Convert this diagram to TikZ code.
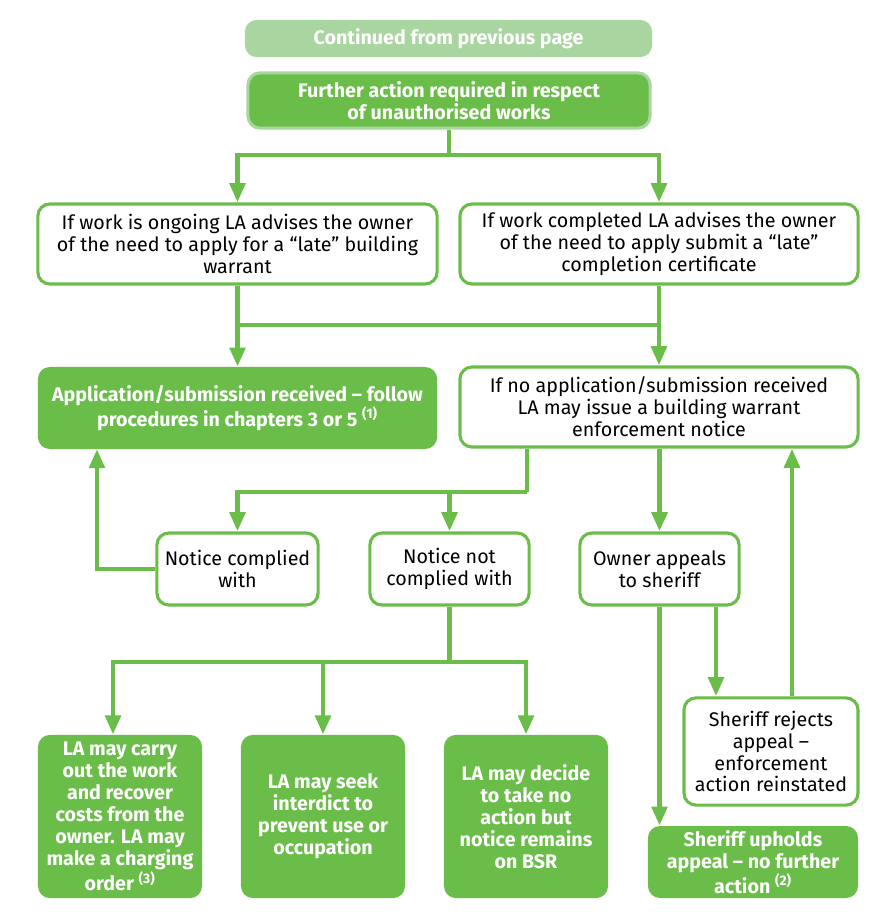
\documentclass[tikz,border=0pt]{standalone}
\usepackage{fontspec}
\setmainfont{Fira Sans}
\usetikzlibrary{arrows.meta}
\definecolor{sgreen}{RGB}{106,189,72}
\definecolor{lgreen}{RGB}{169,213,160}

\begin{document}
\begin{tikzpicture}[x=0.025cm, y=-0.025cm]
% Node styles ---
\tikzstyle{box} = [rectangle, rounded corners = 0.3cm, align = center, inner sep = 0pt, font = \fontsize{14}{15.6}\selectfont]
\tikzstyle{wbox} = [box, line width = 2.2pt, draw = sgreen, fill = white, text = black]
\tikzstyle{gbox} = [box, fill = sgreen, text = white, font = \fontsize{14}{15.6}\selectfont\bfseries]
\tikzstyle{hbox} = [box, fill = lgreen, text = white, font = \fontsize{14}{15.6}\selectfont\bfseries]
\tikzstyle{line} = [line width = 3.5pt, draw = sgreen]
\tikzstyle{con} = [line, -{Triangle[width = 0.38cm, length = 0.48cm]}]
% Begin Figure ---
\useasboundingbox (0,0) rectangle (878,915);
% Nodes
\node at (448.5,38.5) [hbox, minimum width = 10.18cm, minimum height = 0.93cm] (cont) {Continued from previous page};
\node at (449,100.5) [gbox, draw = lgreen, line width = 2.2pt, minimum width = 10.05cm, minimum height = 1.38cm] (further) {Further action required in respect\\of unauthorised works};
\node at (237.5,244) [wbox, minimum width = 9.98cm, minimum height = 2.0cm] (ongoing) {If work is ongoing LA advises the owner\\of the need to apply for a “late” building\\warrant};
\node at (659,244) [wbox, minimum width = 9.95cm, minimum height = 2.0cm] (completed) {If work completed LA advises the owner\\of the need to apply submit a “late”\\completion certificate};
\node at (237.5,408) [gbox, minimum width = 9.98cm, minimum height = 2.05cm] (received) {Application/submission received – follow\\procedures in chapters 3 or 5 \textsuperscript{(1)}};
\node at (659,407) [wbox, minimum width = 9.95cm, minimum height = 2.0cm] (noapp) {If no application/submission received\\LA may issue a building warrant\\enforcement notice};
\node at (237.5,569) [wbox, minimum width = 4.03cm, minimum height = 1.8cm] (complied) {Notice complied\\with};
\node at (449.5,569) [wbox, minimum width = 3.98cm, minimum height = 1.8cm] (notcomp) {Notice not\\complied with};
\node at (659.5,569) [wbox, minimum width = 3.98cm, minimum height = 1.8cm] (appeals) {Owner appeals\\to sheriff};
\node at (771,751.5) [wbox, minimum width = 4.35cm, minimum height = 2.68cm] (rejects) {Sheriff rejects\\appeal –\\enforcement\\action reinstated};
\node at (120,816.5) [gbox, minimum width = 4.1cm, minimum height = 4.08cm] (carry) {LA may carry\\out the work\\and recover\\costs from the\\owner. LA may\\make a charging\\order \textsuperscript{(3)}};
\node at (323,816.5) [gbox, minimum width = 4.1cm, minimum height = 4.08cm] (seek) {LA may seek\\interdict to\\prevent use or\\occupation};
\node at (526,816.5) [gbox, minimum width = 4.1cm, minimum height = 4.08cm] (decide) {LA may decide\\to take no\\action but\\notice remains\\on BSR};
\node at (753,862) [gbox, minimum width = 5.25cm, minimum height = 1.8cm] (upholds) {Sheriff upholds\\appeal – no further\\action \textsuperscript{(2)}};
% Junctions
\coordinate (split1) at (449,155);
\coordinate (split2l) at (237.5,325);
\coordinate (split2r) at (659,325);
\coordinate (split3) at (527,492);
\coordinate (split4) at (449.5,662);
\coordinate (back1) at (97,449);
% Paths
\draw [line] (further) -- (split1);
\draw [con] (split1) -| (ongoing);
\draw [con] (split1) -| (completed);
\draw [con] (ongoing) -- (received);
\draw [con] (completed) -- (noapp);
\draw [line] (split2l) -- (split2r);
\draw [line] (split3 |- noapp.south) -- (split3);
\draw [con] (split3) -| (complied);
\draw [con] (split3) -| (notcomp);
\draw [con] (noapp.south -| appeals.north) -- (appeals);
\draw [con] (complied.west) -| (back1);
\draw [line] (notcomp) -- (split4);
\draw [con] (split4) -| (113,0 |- carry.north);
\draw [con] (split4) -| (seek);
\draw [con] (split4) -| (decide);
\draw [con] (appeals.south) -- (appeals.south |- upholds.north);
\draw [con] (716,0 |- appeals.south) -- (716,0 |- rejects.north);
\draw [con] (792,0 |- rejects.north) -- (792,0 |- noapp.south);
\end{tikzpicture}
\end{document}
